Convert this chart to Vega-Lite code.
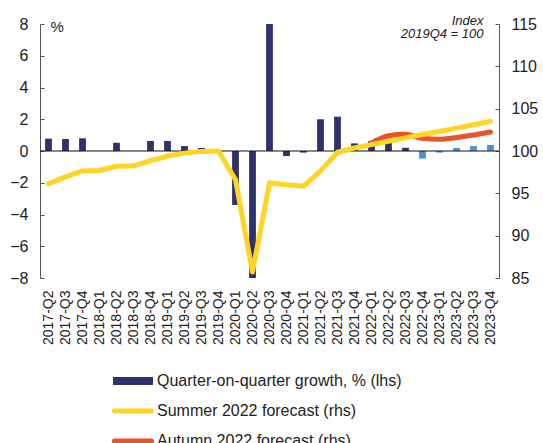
{
  "$schema": "https://vega.github.io/schema/vega-lite/v6.json",
  "width": 459,
  "height": 254,
  "autosize": {"type": "none"},
  "padding": {"left": 40, "top": 24, "right": 44, "bottom": 165},
  "config": {
    "view": {"stroke": null},
    "font": "Liberation Sans",
    "axis": {"labelFont": "Liberation Sans", "labelColor": "#222", "domainColor": "#555", "tickColor": "#555", "grid": false, "labelOverlap": false},
    "legend": {
      "orient": "none", "legendX": 73, "legendY": 337, "direction": "vertical", "title": null,
      "symbolType": "M-1,-0.18H1V0.18H-1Z", "symbolSize": 1600, "symbolStrokeWidth": 0,
      "labelFontSize": 16, "labelColor": "#222", "labelOffset": 4, "padding": 0, "rowPadding": 2,
      "labelLimit": 0, "symbolOpacity": 1
    }
  },
  "datasets": {
    "growth": [
      {"quarter": "2017-Q2", "growth": 0.78, "period": "outturn"},
      {"quarter": "2017-Q3", "growth": 0.76, "period": "outturn"},
      {"quarter": "2017-Q4", "growth": 0.8, "period": "outturn"},
      {"quarter": "2018-Q1", "growth": 0.0, "period": "outturn"},
      {"quarter": "2018-Q2", "growth": 0.52, "period": "outturn"},
      {"quarter": "2018-Q3", "growth": 0.0, "period": "outturn"},
      {"quarter": "2018-Q4", "growth": 0.63, "period": "outturn"},
      {"quarter": "2019-Q1", "growth": 0.63, "period": "outturn"},
      {"quarter": "2019-Q2", "growth": 0.31, "period": "outturn"},
      {"quarter": "2019-Q3", "growth": 0.19, "period": "outturn"},
      {"quarter": "2019-Q4", "growth": 0.0, "period": "outturn"},
      {"quarter": "2020-Q1", "growth": -3.4, "period": "outturn"},
      {"quarter": "2020-Q2", "growth": -8.0, "period": "outturn"},
      {"quarter": "2020-Q3", "growth": 8.0, "period": "outturn"},
      {"quarter": "2020-Q4", "growth": -0.32, "period": "outturn"},
      {"quarter": "2021-Q1", "growth": -0.1, "period": "outturn"},
      {"quarter": "2021-Q2", "growth": 2.0, "period": "outturn"},
      {"quarter": "2021-Q3", "growth": 2.16, "period": "outturn"},
      {"quarter": "2021-Q4", "growth": 0.48, "period": "outturn"},
      {"quarter": "2022-Q1", "growth": 0.62, "period": "outturn"},
      {"quarter": "2022-Q2", "growth": 0.78, "period": "outturn"},
      {"quarter": "2022-Q3", "growth": 0.2, "period": "outturn"},
      {"quarter": "2022-Q4", "growth": -0.48, "period": "forecast"},
      {"quarter": "2023-Q1", "growth": -0.1, "period": "forecast"},
      {"quarter": "2023-Q2", "growth": 0.19, "period": "forecast"},
      {"quarter": "2023-Q3", "growth": 0.31, "period": "forecast"},
      {"quarter": "2023-Q4", "growth": 0.38, "period": "forecast"}
    ],
    "index": [
      {"quarter": "2017-Q2", "series": "Summer 2022 forecast (rhs)", "value": 96.15},
      {"quarter": "2017-Q3", "series": "Summer 2022 forecast (rhs)", "value": 96.95},
      {"quarter": "2017-Q4", "series": "Summer 2022 forecast (rhs)", "value": 97.65},
      {"quarter": "2018-Q1", "series": "Summer 2022 forecast (rhs)", "value": 97.7},
      {"quarter": "2018-Q2", "series": "Summer 2022 forecast (rhs)", "value": 98.2},
      {"quarter": "2018-Q3", "series": "Summer 2022 forecast (rhs)", "value": 98.25},
      {"quarter": "2018-Q4", "series": "Summer 2022 forecast (rhs)", "value": 98.85},
      {"quarter": "2019-Q1", "series": "Summer 2022 forecast (rhs)", "value": 99.4},
      {"quarter": "2019-Q2", "series": "Summer 2022 forecast (rhs)", "value": 99.75},
      {"quarter": "2019-Q3", "series": "Summer 2022 forecast (rhs)", "value": 99.95},
      {"quarter": "2019-Q4", "series": "Summer 2022 forecast (rhs)", "value": 100.0},
      {"quarter": "2020-Q1", "series": "Summer 2022 forecast (rhs)", "value": 96.6},
      {"quarter": "2020-Q2", "series": "Summer 2022 forecast (rhs)", "value": 85.7},
      {"quarter": "2020-Q3", "series": "Summer 2022 forecast (rhs)", "value": 96.25},
      {"quarter": "2020-Q4", "series": "Summer 2022 forecast (rhs)", "value": 96.0},
      {"quarter": "2021-Q1", "series": "Summer 2022 forecast (rhs)", "value": 95.85},
      {"quarter": "2021-Q2", "series": "Summer 2022 forecast (rhs)", "value": 97.65},
      {"quarter": "2021-Q3", "series": "Summer 2022 forecast (rhs)", "value": 99.85},
      {"quarter": "2021-Q4", "series": "Summer 2022 forecast (rhs)", "value": 100.35},
      {"quarter": "2022-Q1", "series": "Summer 2022 forecast (rhs)", "value": 100.75},
      {"quarter": "2022-Q2", "series": "Summer 2022 forecast (rhs)", "value": 101.15},
      {"quarter": "2022-Q3", "series": "Summer 2022 forecast (rhs)", "value": 101.55},
      {"quarter": "2022-Q4", "series": "Summer 2022 forecast (rhs)", "value": 101.95},
      {"quarter": "2023-Q1", "series": "Summer 2022 forecast (rhs)", "value": 102.3},
      {"quarter": "2023-Q2", "series": "Summer 2022 forecast (rhs)", "value": 102.7},
      {"quarter": "2023-Q3", "series": "Summer 2022 forecast (rhs)", "value": 103.1},
      {"quarter": "2023-Q4", "series": "Summer 2022 forecast (rhs)", "value": 103.5},
      {"quarter": "2022-Q1", "series": "Autumn 2022 forecast (rhs)", "value": 100.95},
      {"quarter": "2022-Q2", "series": "Autumn 2022 forecast (rhs)", "value": 101.8},
      {"quarter": "2022-Q3", "series": "Autumn 2022 forecast (rhs)", "value": 101.97},
      {"quarter": "2022-Q4", "series": "Autumn 2022 forecast (rhs)", "value": 101.5},
      {"quarter": "2023-Q1", "series": "Autumn 2022 forecast (rhs)", "value": 101.4},
      {"quarter": "2023-Q2", "series": "Autumn 2022 forecast (rhs)", "value": 101.6},
      {"quarter": "2023-Q3", "series": "Autumn 2022 forecast (rhs)", "value": 101.9},
      {"quarter": "2023-Q4", "series": "Autumn 2022 forecast (rhs)", "value": 102.25}
    ]
  },
  "encoding": {
    "x": {
      "field": "quarter",
      "type": "ordinal",
      "scale": {"paddingInner": 0.6, "paddingOuter": 0.3},
      "axis": {"title": null, "labelAngle": -90, "labelFontSize": 14, "domain": false, "ticks": false, "labelPadding": 12}
    }
  },
  "layer": [
    {
      "data": {"name": "growth"},
      "encoding": {
        "y": {
          "field": "growth",
          "type": "quantitative",
          "scale": {"domain": [-8, 8], "nice": false},
          "axis": {"title": "%", "titleAngle": 0, "titleAlign": "left", "titleBaseline": "alphabetic", "titleX": 10, "titleY": 7, "titleFontSize": 15, "titleFontWeight": "normal", "titleColor": "#222", "values": [-8, -6, -4, -2, 0, 2, 4, 6, 8], "tickCount": 9, "labelFontSize": 16, "tickSize": -4, "labelPadding": 16}
        }
      },
      "layer": [
        {
          "transform": [{"filter": "datum.period === 'outturn'"}],
          "mark": {"type": "bar", "clip": true},
          "encoding": {
            "color": {
              "datum": "Quarter-on-quarter growth, % (lhs)",
              "type": "nominal",
              "title": null,
              "scale": {
                "domain": ["Quarter-on-quarter growth, % (lhs)", "Summer 2022 forecast (rhs)", "Autumn 2022 forecast (rhs)"],
                "range": ["#2E336B", "#FFD424", "#E8532A"]
              },
              "legend": {
                "title": null,
                "encode": {"symbols": {"update": {
                  "fill": {"scale": "color", "field": "value"},
                  "stroke": {"value": "transparent"},
                  "shape": {"signal": "datum.value === 'Quarter-on-quarter growth, % (lhs)' ? 'M-1,-0.2H1V0.2H-1Z' : 'M-0.93,-0.13H0.93A0.13,0.13 0 0 1 0.93,0.13H-0.93A0.13,0.13 0 0 1 -0.93,-0.13Z'"}
                }}}
              }
            }
          }
        },
        {
          "transform": [{"filter": "datum.period === 'forecast'"}],
          "mark": {"type": "bar", "clip": true, "color": "#4B93D3"}
        },
        {
          "transform": [{"filter": "datum.quarter === '2017-Q2'"}],
          "mark": {"type": "rule", "color": "#111", "strokeWidth": 1},
          "encoding": {"x": null, "y": {"datum": 0}}
        }
      ]
    },
    {
      "data": {"name": "index"},
      "encoding": {
        "y": {
          "field": "value",
          "type": "quantitative",
          "scale": {"domain": [85, 115], "nice": false},
          "axis": {"orient": "right", "title": ["Index", "2019Q4 = 100"], "titleAngle": 0, "titleAlign": "right", "titleBaseline": "alphabetic", "titleX": -16, "titleY": 0, "titleFontSize": 13, "titleFontStyle": "italic", "titleFontWeight": "normal", "titleLineHeight": 13, "titleColor": "#222", "values": [85, 90, 95, 100, 105, 110, 115], "labelFontSize": 16, "tickSize": -4, "labelPadding": 16}
        },
        "color": {"field": "series", "type": "nominal", "title": null}
      },
      "layer": [
        {
          "transform": [{"filter": "datum.series === 'Autumn 2022 forecast (rhs)'"}],
          "mark": {"type": "line", "strokeWidth": 5, "interpolate": "monotone", "strokeCap": "round", "strokeJoin": "round"}
        },
        {
          "transform": [{"filter": "datum.series === 'Summer 2022 forecast (rhs)'"}],
          "mark": {"type": "line", "strokeWidth": 5, "strokeCap": "round", "strokeJoin": "round"}
        }
      ]
    }
  ],
  "resolve": {"scale": {"y": "independent"}}
}
